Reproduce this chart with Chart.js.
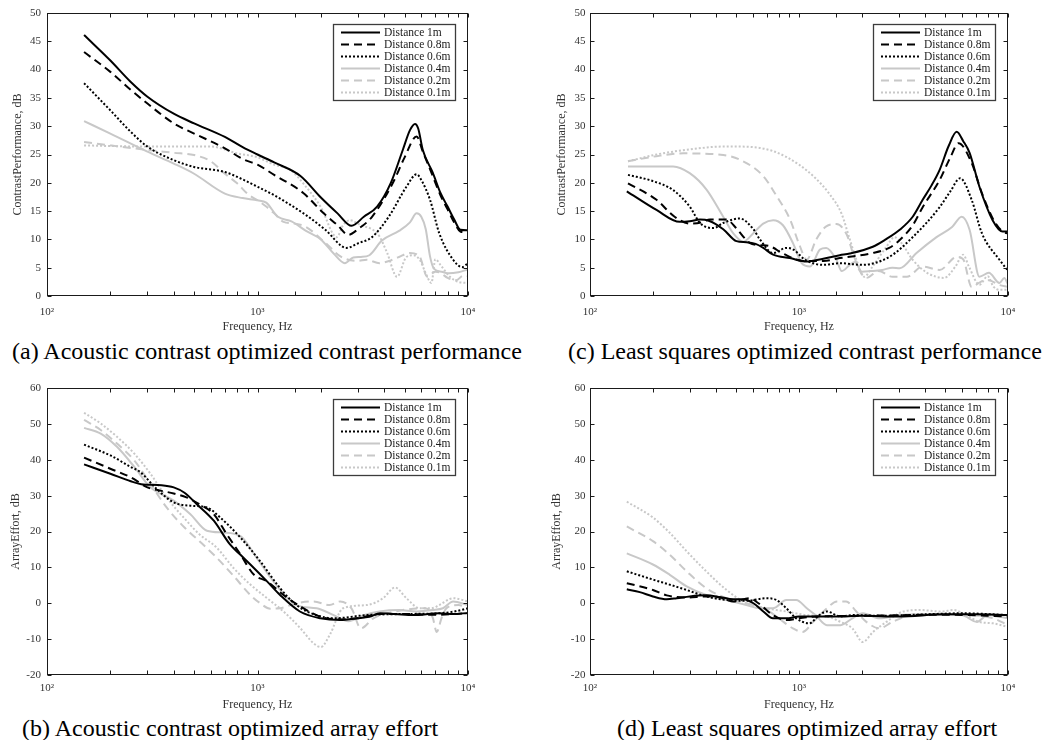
<!DOCTYPE html>
<html><head><meta charset="utf-8">
<script src="https://cdn.jsdelivr.net/npm/chart.js@4.4.1/dist/chart.umd.min.js"></script>
<style>
html,body{margin:0;padding:0;background:#fff;width:1047px;height:740px;overflow:hidden;}
canvas{position:absolute;display:block;}
.cap{position:absolute;font-family:"Liberation Serif","Times New Roman",serif;font-size:24px;line-height:24px;white-space:nowrap;color:#000;}
</style></head><body>
<canvas id="ca" width="520" height="335" style="left:0;top:0"></canvas>
<canvas id="cc" width="527" height="335" style="left:520px;top:0"></canvas>
<canvas id="cb" width="520" height="340" style="left:0;top:375px"></canvas>
<canvas id="cd" width="527" height="340" style="left:520px;top:375px"></canvas>
<div class="cap" style="left:12px;top:339px">(a) Acoustic contrast optimized contrast performance</div>
<div class="cap" style="left:568px;top:339px">(c) Least squares optimized contrast performance</div>
<div class="cap" style="left:22px;top:716px">(b) Acoustic contrast optimized array effort</div>
<div class="cap" style="left:617px;top:716px">(d) Least squares optimized array effort</div>
<script>
// ---------------- DATA ----------------
const LABELS = ['Distance 1m','Distance 0.8m','Distance 0.6m','Distance 0.4m','Distance 0.2m','Distance 0.1m'];
const X_TITLE = 'Frequency, Hz';
const Y_TITLE_CONTRAST = 'ContrastPerformance, dB';
const Y_TITLE_EFFORT = 'ArrayEffort, dB';
const X_TICK_LABELS = {2:'10\u00B2', 3:'10\u00B3', 4:'10\u2074'};

// (a) Acoustic contrast optimized – contrast performance  [frequency Hz, dB]
const a_1m  = [[150,46.1],[200,41.6],[250,37.8],[300,35.2],[400,32.2],[500,30.5],[700,28.1],[850,26.3],[1000,25.0],[1200,23.6],[1600,21.2],[2000,17.4],[2400,14.6],[2800,12.4],[3200,14.0],[3700,15.8],[4300,20.0],[4900,25.8],[5300,29.3],[5600,30.4],[5800,29.6],[6100,25.8],[6800,21.8],[7400,18.2],[8000,15.8],[8600,13.5],[9200,11.7],[10000,11.6]];
const a_08m = [[150,43.1],[200,39.6],[250,36.4],[300,34.0],[400,30.5],[500,28.7],[700,26.1],[850,24.2],[1000,23.2],[1200,21.4],[1650,18.2],[2050,14.7],[2400,12.5],[2700,10.8],[3000,11.8],[3500,14.0],[4400,20.0],[5000,24.5],[5700,28.2],[6100,25.5],[6800,21.2],[7400,17.8],[8000,15.3],[8600,13.0],[9200,11.4],[10000,11.2]];
const a_06m = [[150,37.6],[200,32.8],[250,29.0],[300,26.4],[400,24.0],[500,22.8],[700,21.9],[850,20.6],[1000,19.3],[1200,17.8],[1700,14.3],[2100,11.7],[2650,8.5],[3000,9.3],[3500,10.4],[4200,14.0],[5100,19.3],[5700,21.5],[6000,20.5],[6600,17.0],[7300,11.1],[8500,6.4],[9400,5.1],[10000,5.8]];
const a_04m = [[150,30.9],[200,28.7],[300,25.5],[400,23.4],[500,21.6],[700,18.1],[850,17.3],[1000,16.9],[1100,16.5],[1250,14.0],[1450,13.2],[1700,11.5],[2000,10.0],[2300,7.5],[2600,5.8],[2850,6.8],[3100,6.9],[3400,7.2],[3900,9.8],[4700,11.5],[5300,13.0],[5700,14.6],[6000,14.0],[6300,11.8],[6600,7.0],[6900,4.8],[7500,4.3],[8100,4.0],[9000,4.2],[10000,4.7]];
const a_02m = [[150,27.2],[200,26.6],[300,25.8],[400,25.3],[500,24.9],[600,23.8],[700,21.6],[800,19.9],[900,18.0],[1000,16.9],[1100,15.8],[1200,14.6],[1330,13.1],[1500,12.8],[1700,12.2],[2100,9.4],[2500,6.9],[3000,6.2],[3300,6.4],[3800,5.8],[4300,6.3],[4700,6.9],[5300,7.6],[5900,6.9],[6400,3.4],[7000,4.3],[7400,4.1],[8000,3.2],[8800,2.8],[9500,3.6],[10000,3.5]];
const a_01m = [[150,26.6],[300,26.4],[600,26.4],[800,25.2],[1000,24.5],[1200,23.2],[1430,22.3],[1700,19.3],[2000,15.7],[2380,10.4],[2550,12.5],[2750,13.4],[3100,12.5],[3530,11.7],[3800,10.5],[4130,7.6],[4600,3.4],[5100,6.9],[5500,7.2],[5900,6.4],[6300,4.0],[6700,2.3],[7000,6.5],[7400,5.5],[8200,3.4],[9000,2.5],[10000,2.3]];

// (c) Least squares optimized – contrast performance
const c_1m  = [[150,18.5],[208,15.2],[269,13.1],[300,13.2],[336,13.5],[370,13.3],[434,11.8],[502,9.7],[561,9.5],[620,9.2],[674,8.5],[752,7.3],[904,6.7],[1087,6.1],[1306,6.6],[1567,7.2],[1750,7.5],[2255,8.7],[2600,10.0],[3034,11.7],[3500,14.0],[3906,17.0],[4300,19.5],[4710,22.3],[5200,26.5],[5680,29.0],[6100,27.4],[6550,25.3],[7300,19.3],[8440,13.4],[9420,11.4],[10000,11.4]];
const c_08m = [[152,19.9],[208,17.0],[254,14.0],[300,12.8],[340,13.0],[375,13.5],[450,13.5],[500,12.0],[580,9.4],[650,9.0],[725,8.8],[838,7.5],[1050,6.2],[1306,6.2],[1567,6.7],[2255,7.6],[2700,8.5],[3034,9.9],[3500,12.5],[3906,15.7],[4710,20.5],[5300,24.5],[5800,27.0],[6700,23.5],[7500,18.2],[8700,12.9],[9900,11.1],[10000,11.1]];
const c_06m = [[152,21.4],[200,20.3],[250,18.7],[300,15.8],[336,12.9],[390,12.0],[434,12.9],[520,13.7],[605,11.8],[650,10.0],[752,7.6],[870,8.5],[940,8.2],[1070,6.4],[1306,5.5],[1567,5.8],[2000,5.5],[2700,6.9],[3500,10.4],[4710,15.7],[5300,18.5],[5900,20.8],[6700,17.0],[7500,11.1],[9100,6.4],[10000,4.5]];
const c_04m = [[152,22.9],[250,22.9],[300,21.7],[361,18.8],[434,14.0],[484,11.1],[541,9.6],[605,11.1],[674,12.8],[752,13.4],[838,12.5],[937,9.3],[1030,5.8],[1130,5.2],[1260,8.2],[1350,8.5],[1510,6.4],[1600,4.4],[1750,5.5],[1850,6.0],[2000,4.3],[2200,4.4],[2500,4.6],[2800,5.0],[3034,4.9],[3650,7.6],[4550,10.4],[5400,12.2],[6000,14.0],[6550,11.7],[7300,3.4],[8100,4.1],[9100,2.3],[9600,3.2],[10000,2.0]];
const c_02m = [[152,23.8],[208,24.7],[280,25.2],[434,24.9],[520,24.1],[674,21.2],[780,17.7],[904,13.6],[1010,8.8],[1087,6.4],[1210,10.0],[1350,12.3],[1510,12.7],[1690,10.9],[1810,7.6],[1950,4.5],[2100,3.2],[2400,4.4],[2800,3.4],[3280,3.4],[3900,5.2],[4710,4.6],[5680,6.9],[6100,6.5],[6700,1.6],[7400,2.5],[8100,2.8],[9000,2.0],[10000,1.6]];
const c_01m = [[152,23.8],[208,25.0],[300,25.9],[434,26.4],[520,26.4],[752,25.6],[1000,23.2],[1200,20.8],[1400,18.0],[1600,14.5],[1750,10.0],[1900,6.0],[2050,3.4],[2250,5.2],[2620,8.7],[2860,10.4],[3100,9.3],[3500,6.4],[4100,4.1],[4950,3.2],[5600,5.2],[6100,7.3],[6500,5.2],[7300,2.0],[8000,3.5],[8500,1.7],[9100,1.1],[10000,1.1]];

// (b) Acoustic contrast optimized – array effort
const b_1m  = [[150,38.7],[200,36.1],[250,34.0],[280,33.2],[350,32.9],[400,32.3],[450,30.8],[515,27.6],[620,23.0],[740,16.4],[830,13.5],[925,10.8],[1110,6.1],[1280,2.3],[1590,-2.3],[1990,-4.2],[2470,-4.7],[2950,-4.2],[3400,-3.8],[3820,-2.8],[4500,-3.0],[5500,-3.3],[7300,-2.8],[8500,-3.0],[10000,-2.7]];
const b_08m = [[150,40.6],[200,37.5],[250,35.1],[300,32.3],[345,31.4],[400,30.6],[460,29.5],[530,27.6],[620,24.8],[715,19.2],[830,13.6],[960,8.0],[1110,6.1],[1330,2.3],[1600,-0.9],[2000,-3.8],[2500,-4.5],[3000,-4.2],[3800,-3.0],[5000,-3.0],[7000,-3.2],[10000,-2.8]];
const b_06m = [[150,44.2],[200,41.2],[250,38.0],[277,36.6],[330,32.0],[400,28.1],[480,27.2],[575,26.7],[665,23.9],[830,18.3],[1030,11.7],[1280,4.2],[1530,-0.5],[1900,-3.3],[2300,-4.2],[3300,-3.3],[5000,-3.0],[7300,-2.8],[8600,-2.3],[10000,-1.4]];
const b_04m = [[150,48.9],[180,47.3],[215,43.6],[260,38.0],[310,32.3],[400,28.6],[480,24.8],[575,20.2],[690,19.7],[830,18.7],[990,12.7],[1190,6.1],[1530,-0.5],[1910,-1.4],[2300,-3.3],[2700,-5.0],[3200,-3.3],[3800,-2.3],[4700,-1.9],[5700,-2.3],[6800,-1.9],[7600,-1.4],[8500,0.5],[10000,-0.5]];
const b_02m = [[150,51.1],[180,48.3],[215,44.5],[260,39.8],[310,33.3],[370,26.7],[450,21.1],[530,17.3],[640,12.7],[760,8.0],[925,2.3],[1030,0.0],[1150,-1.5],[1280,-1.4],[1530,0.0],[1850,0.5],[2200,-0.5],[2470,0.5],[2800,-1.5],[3100,-7.0],[3550,-4.2],[4500,-2.3],[6300,-1.4],[6800,-4.0],[7100,-8.0],[7500,-4.0],[7900,-1.4],[9000,-0.5],[10000,-1.4]];
const b_01m = [[150,53.1],[180,50.1],[215,46.4],[260,41.7],[310,36.1],[370,29.5],[460,23.0],[530,19.2],[640,15.5],[770,9.8],[925,5.2],[1110,1.4],[1330,-2.3],[1600,-7.0],[1850,-11.2],[2000,-12.2],[2200,-8.9],[2550,-1.4],[3300,-0.5],[3950,1.4],[4500,4.4],[5100,1.4],[5900,-1.4],[6700,-1.4],[7300,-0.5],[8500,1.4],[10000,0.5]];

// (d) Least squares optimized – array effort
const d_1m  = [[150,3.9],[173,3.1],[200,1.9],[233,1.1],[260,1.4],[300,1.9],[360,2.2],[420,1.7],[485,1.1],[540,1.1],[605,0.0],[675,-2.3],[750,-4.2],[870,-4.2],[1000,-3.7],[1500,-3.7],[2000,-3.5],[3000,-3.7],[5000,-3.1],[7000,-3.1],[10000,-3.3]];
const d_08m = [[150,5.6],[200,3.7],[233,2.2],[290,1.6],[360,1.9],[420,1.6],[485,0.5],[580,1.4],[640,0.0],[750,-3.3],[870,-4.7],[1000,-4.2],[1200,-3.7],[2000,-3.5],[5000,-3.2],[10000,-3.7]];
const d_06m = [[150,8.9],[200,6.6],[240,5.2],[290,3.7],[360,1.9],[450,0.9],[560,0.7],[700,1.4],[780,0.9],[870,-1.4],[970,-4.2],[1120,-5.6],[1250,-3.3],[1360,-2.3],[1580,-3.7],[1800,-3.3],[2500,-3.5],[4000,-3.1],[6000,-2.8],[10000,-3.3]];
const d_04m = [[150,13.9],[200,10.8],[240,8.0],[290,4.7],[360,2.3],[450,0.9],[560,-0.5],[650,-1.4],[750,-1.4],[870,0.9],[970,0.9],[1090,-1.4],[1200,-3.3],[1360,-6.1],[1580,-6.1],[1800,-4.2],[2020,-2.8],[2430,-4.2],[3000,-3.3],[4000,-3.1],[6000,-3.3],[7100,-5.2],[8000,-3.3],[10000,-4.2]];
const d_02m = [[150,21.4],[200,17.3],[240,13.6],[290,8.9],[360,4.2],[450,1.4],[560,0.0],[700,-1.9],[800,-4.2],[935,-7.0],[1040,-8.0],[1170,-5.2],[1360,-1.4],[1520,0.5],[1680,0.5],[1880,-2.3],[2100,-5.2],[2430,-7.0],[2800,-5.2],[3500,-3.3],[6000,-3.3],[8500,-4.2],[10000,-6.1]];
const d_01m = [[150,28.3],[200,23.9],[240,19.7],[290,14.5],[360,8.9],[450,3.7],[560,0.0],[700,-1.4],[870,-2.3],[1090,-3.3],[1360,-3.7],[1580,-5.2],[1800,-7.0],[2020,-10.8],[2260,-8.0],[2620,-5.2],[3150,-2.3],[3800,-1.9],[4800,-2.3],[5500,-1.9],[6300,-3.3],[7300,-5.2],[8500,-5.6],[10000,-6.6]];

// ---------------- STYLE ----------------
const FONT = '"Liberation Serif", "Times New Roman", serif';
const BLACK = '#000000', GREY = '#c8c8c8';
const STYLE = [
  {color: BLACK, dash: []}, {color: BLACK, dash: [8, 5]}, {color: BLACK, dash: [2, 2]},
  {color: GREY, dash: []},  {color: GREY, dash: [8, 5]},  {color: GREY, dash: [2, 2]}
];
const TEXT_COLOR = '#333333';

const framePlugin = {
  id: 'matlabFrame',
  afterDraw(chart) {
    const {ctx, chartArea: a, scales: {x, y}} = chart;
    ctx.save();
    const L = Math.round(a.left) + 0.5, R = Math.round(a.right) - 0.5;
    const T = Math.round(a.top) + 0.5, B = Math.round(a.bottom) - 0.5;
    ctx.strokeStyle = '#1a1a1a'; ctx.lineWidth = 1; ctx.setLineDash([]);
    ctx.strokeRect(L, T, R - L, B - T);
    ctx.beginPath();
    x.ticks.forEach(t => {
      const px = Math.round(x.getPixelForValue(t.value)) + 0.5;
      ctx.moveTo(px, B); ctx.lineTo(px, B - 4);
      ctx.moveTo(px, T); ctx.lineTo(px, T + 4);
    });
    y.ticks.forEach(t => {
      const py = Math.round(y.getPixelForValue(t.value)) + 0.5;
      ctx.moveTo(L, py); ctx.lineTo(L + 4, py);
      ctx.moveTo(R, py); ctx.lineTo(R - 4, py);
    });
    ctx.stroke();
    // legend box
    const bw = 122, bh = 76;
    const bx = Math.round(a.right - 13 - bw), by = Math.round(a.top + 11);
    ctx.fillStyle = '#ffffff'; ctx.fillRect(bx, by, bw, bh);
    ctx.strokeStyle = '#3c3c3c'; ctx.lineWidth = 1.3; ctx.strokeRect(bx + 0.5, by + 0.5, bw, bh);
    ctx.font = '11.5px ' + FONT; ctx.textBaseline = 'middle'; ctx.textAlign = 'left';
    chart.data.datasets.forEach((ds, i) => {
      const yy = by + 8.5 + i * 12;
      ctx.beginPath(); ctx.setLineDash(ds.borderDash || []);
      ctx.strokeStyle = ds.borderColor; ctx.lineWidth = ds.borderWidth;
      ctx.moveTo(bx + 8, yy); ctx.lineTo(bx + 47, yy); ctx.stroke();
      ctx.setLineDash([]);
      ctx.fillStyle = '#1a1a1a';
      ctx.fillText(ds.label, bx + 51, yy + 0.5);
    });
    ctx.restore();
  }
};

function xLabel(v) {
  const e = Math.log10(v);
  const r = Math.round(e);
  return Math.abs(e - r) < 1e-6 ? (X_TICK_LABELS[r] || '') : '';
}

function buildChart(id, series, g) {
  const datasets = series.map((pts, i) => ({
    label: LABELS[i],
    data: pts.map(p => ({x: p[0], y: p[1]})),
    borderColor: STYLE[i].color,
    borderDash: STYLE[i].dash,
    borderWidth: 2,
    pointRadius: 0,
    fill: false,
    cubicInterpolationMode: 'monotone'
  }));
  return new Chart(document.getElementById(id), {
    type: 'line',
    data: {datasets},
    options: {
      responsive: false, animation: false, events: [],
      layout: {padding: {left: 0, top: g.padTop, right: g.padRight, bottom: 0}},
      plugins: {legend: {display: false}, tooltip: {enabled: false}},
      scales: {
        x: {
          type: 'logarithmic', min: 100, max: 10000, position: 'bottom',
          grid: {display: false, drawTicks: false}, border: {display: false},
          ticks: {autoSkip: false, maxRotation: 0, minRotation: 0, padding: g.xTickPad, color: TEXT_COLOR,
                  font: {family: FONT, size: 11}, callback: v => xLabel(v)},
          title: {display: true, text: X_TITLE, color: TEXT_COLOR, font: {family: FONT, size: 12},
                  padding: {top: 0, bottom: g.xTitlePad}},
          afterFit: s => { s.height = g.xAxisH; }
        },
        y: {
          type: 'linear', min: g.yMin, max: g.yMax,
          grid: {display: false, drawTicks: false}, border: {display: false},
          ticks: {stepSize: g.yStep, padding: g.yTickPad, color: TEXT_COLOR, font: {family: FONT, size: 11}},
          title: {display: true, text: g.yTitle, color: TEXT_COLOR, font: {family: FONT, size: 12},
                  padding: {top: g.yTitlePad, bottom: 0}},
          afterFit: s => { s.width = g.yAxisW; }
        }
      }
    },
    plugins: [framePlugin]
  });
}

const TOP = {yMin: 0, yMax: 50, yStep: 5, yTitle: Y_TITLE_CONTRAST, padTop: 13, xAxisH: 39, xTickPad: 9.5, xTitlePad: 1.3};
const BOT = {yMin: -20, yMax: 60, yStep: 10, yTitle: Y_TITLE_EFFORT, padTop: 13, xAxisH: 40, xTickPad: 6.5, xTitlePad: 2.8};

buildChart('ca', [a_1m, a_08m, a_06m, a_04m, a_02m, a_01m], Object.assign({}, TOP, {yAxisW: 47, padRight: 52, yTickPad: 6, yTitlePad: 10.5}));
buildChart('cc', [c_1m, c_08m, c_06m, c_04m, c_02m, c_01m], Object.assign({}, TOP, {yAxisW: 70, padRight: 39, yTickPad: 4.5, yTitlePad: 34.5}));
buildChart('cb', [b_1m, b_08m, b_06m, b_04m, b_02m, b_01m], Object.assign({}, BOT, {yAxisW: 47, padRight: 52, yTickPad: 6, yTitlePad: 8.6}));
buildChart('cd', [d_1m, d_08m, d_06m, d_04m, d_02m, d_01m], Object.assign({}, BOT, {yAxisW: 70, padRight: 39, yTickPad: 4.5, yTitlePad: 29.5}));
</script>
</body></html>
